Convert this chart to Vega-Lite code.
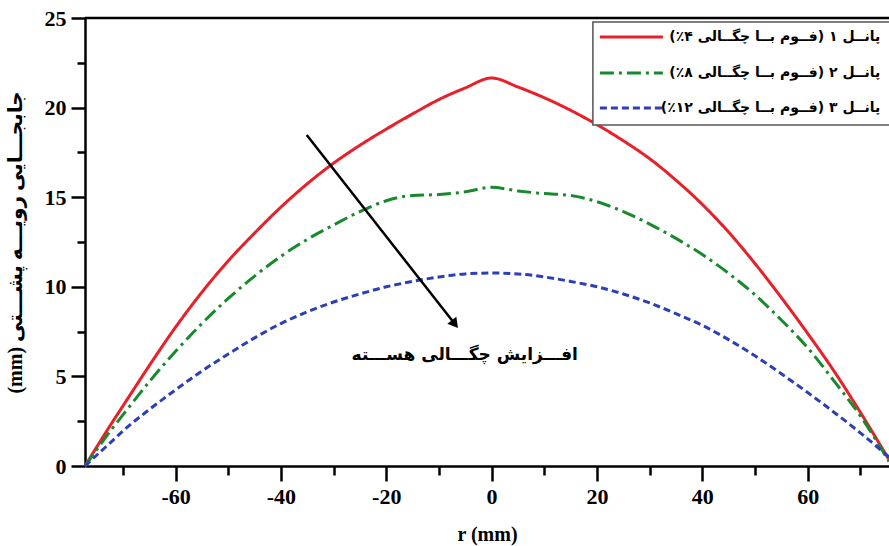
{
  "$schema": "https://vega.github.io/schema/vega-lite/v6.json",
  "width": 804,
  "height": 448,
  "autosize": {"type": "none"},
  "padding": {"left": 85, "top": 18, "right": 0, "bottom": 80},
  "background": "white",
  "config": {
    "view": {"stroke": null},
    "axis": {
      "grid": false,
      "domainColor": "black",
      "domainWidth": 2.5,
      "tickColor": "black",
      "tickWidth": 2.5,
      "labelFont": "Liberation Serif",
      "labelFontWeight": "bold",
      "labelFontSize": 22,
      "labelColor": "black",
      "titleColor": "black",
      "titleFontWeight": "bold",
      "labelOverlap": false,
      "labelFlush": false
    }
  },
  "datasets": {
    "curves": [
      {"series": "پانــل ۱ (فــوم بــا چگــالی ۴٪)‏", "r": -77.2, "d": 0},
      {"series": "پانــل ۱ (فــوم بــا چگــالی ۴٪)‏", "r": -75, "d": 1.05},
      {"series": "پانــل ۱ (فــوم بــا چگــالی ۴٪)‏", "r": -72, "d": 2.45},
      {"series": "پانــل ۱ (فــوم بــا چگــالی ۴٪)‏", "r": -70, "d": 3.35},
      {"series": "پانــل ۱ (فــوم بــا چگــالی ۴٪)‏", "r": -65, "d": 5.6},
      {"series": "پانــل ۱ (فــوم بــا چگــالی ۴٪)‏", "r": -60, "d": 7.75},
      {"series": "پانــل ۱ (فــوم بــا چگــالی ۴٪)‏", "r": -55, "d": 9.7},
      {"series": "پانــل ۱ (فــوم بــا چگــالی ۴٪)‏", "r": -50, "d": 11.45},
      {"series": "پانــل ۱ (فــوم بــا چگــالی ۴٪)‏", "r": -45, "d": 13.0},
      {"series": "پانــل ۱ (فــوم بــا چگــالی ۴٪)‏", "r": -40, "d": 14.45},
      {"series": "پانــل ۱ (فــوم بــا چگــالی ۴٪)‏", "r": -35, "d": 15.75},
      {"series": "پانــل ۱ (فــوم بــا چگــالی ۴٪)‏", "r": -30, "d": 16.9},
      {"series": "پانــل ۱ (فــوم بــا چگــالی ۴٪)‏", "r": -25, "d": 17.9},
      {"series": "پانــل ۱ (فــوم بــا چگــالی ۴٪)‏", "r": -20, "d": 18.8},
      {"series": "پانــل ۱ (فــوم بــا چگــالی ۴٪)‏", "r": -15, "d": 19.65},
      {"series": "پانــل ۱ (فــوم بــا چگــالی ۴٪)‏", "r": -10, "d": 20.45},
      {"series": "پانــل ۱ (فــوم بــا چگــالی ۴٪)‏", "r": -5, "d": 21.1},
      {"series": "پانــل ۱ (فــوم بــا چگــالی ۴٪)‏", "r": 0, "d": 21.65},
      {"series": "پانــل ۱ (فــوم بــا چگــالی ۴٪)‏", "r": 5, "d": 21.15},
      {"series": "پانــل ۱ (فــوم بــا چگــالی ۴٪)‏", "r": 10, "d": 20.55},
      {"series": "پانــل ۱ (فــوم بــا چگــالی ۴٪)‏", "r": 15, "d": 19.85},
      {"series": "پانــل ۱ (فــوم بــا چگــالی ۴٪)‏", "r": 20, "d": 19.05},
      {"series": "پانــل ۱ (فــوم بــا چگــالی ۴٪)‏", "r": 25, "d": 18.15},
      {"series": "پانــل ۱ (فــوم بــا چگــالی ۴٪)‏", "r": 30, "d": 17.15},
      {"series": "پانــل ۱ (فــوم بــا چگــالی ۴٪)‏", "r": 35, "d": 15.95},
      {"series": "پانــل ۱ (فــوم بــا چگــالی ۴٪)‏", "r": 40, "d": 14.6},
      {"series": "پانــل ۱ (فــوم بــا چگــالی ۴٪)‏", "r": 45, "d": 13.05},
      {"series": "پانــل ۱ (فــوم بــا چگــالی ۴٪)‏", "r": 50, "d": 11.3},
      {"series": "پانــل ۱ (فــوم بــا چگــالی ۴٪)‏", "r": 55, "d": 9.4},
      {"series": "پانــل ۱ (فــوم بــا چگــالی ۴٪)‏", "r": 60, "d": 7.4},
      {"series": "پانــل ۱ (فــوم بــا چگــالی ۴٪)‏", "r": 65, "d": 5.3},
      {"series": "پانــل ۱ (فــوم بــا چگــالی ۴٪)‏", "r": 70, "d": 3.0},
      {"series": "پانــل ۱ (فــوم بــا چگــالی ۴٪)‏", "r": 75.45, "d": 0.35},
      {"series": "پانــل ۲ (فــوم بــا چگــالی ۸٪)‏", "r": -77.2, "d": 0},
      {"series": "پانــل ۲ (فــوم بــا چگــالی ۸٪)‏", "r": -75, "d": 0.9},
      {"series": "پانــل ۲ (فــوم بــا چگــالی ۸٪)‏", "r": -72, "d": 2.1},
      {"series": "پانــل ۲ (فــوم بــا چگــالی ۸٪)‏", "r": -70, "d": 2.85},
      {"series": "پانــل ۲ (فــوم بــا چگــالی ۸٪)‏", "r": -65, "d": 4.7},
      {"series": "پانــل ۲ (فــوم بــا چگــالی ۸٪)‏", "r": -60, "d": 6.4},
      {"series": "پانــل ۲ (فــوم بــا چگــالی ۸٪)‏", "r": -55, "d": 7.95},
      {"series": "پانــل ۲ (فــوم بــا چگــالی ۸٪)‏", "r": -50, "d": 9.35},
      {"series": "پانــل ۲ (فــوم بــا چگــالی ۸٪)‏", "r": -45, "d": 10.6},
      {"series": "پانــل ۲ (فــوم بــا چگــالی ۸٪)‏", "r": -40, "d": 11.7},
      {"series": "پانــل ۲ (فــوم بــا چگــالی ۸٪)‏", "r": -35, "d": 12.65},
      {"series": "پانــل ۲ (فــوم بــا چگــالی ۸٪)‏", "r": -30, "d": 13.45},
      {"series": "پانــل ۲ (فــوم بــا چگــالی ۸٪)‏", "r": -25, "d": 14.2},
      {"series": "پانــل ۲ (فــوم بــا چگــالی ۸٪)‏", "r": -20, "d": 14.8},
      {"series": "پانــل ۲ (فــوم بــا چگــالی ۸٪)‏", "r": -15, "d": 15.1},
      {"series": "پانــل ۲ (فــوم بــا چگــالی ۸٪)‏", "r": -10, "d": 15.15},
      {"series": "پانــل ۲ (فــوم بــا چگــالی ۸٪)‏", "r": -5, "d": 15.3},
      {"series": "پانــل ۲ (فــوم بــا چگــالی ۸٪)‏", "r": 0, "d": 15.55},
      {"series": "پانــل ۲ (فــوم بــا چگــالی ۸٪)‏", "r": 5, "d": 15.35},
      {"series": "پانــل ۲ (فــوم بــا چگــالی ۸٪)‏", "r": 10, "d": 15.2},
      {"series": "پانــل ۲ (فــوم بــا چگــالی ۸٪)‏", "r": 15, "d": 15.1},
      {"series": "پانــل ۲ (فــوم بــا چگــالی ۸٪)‏", "r": 20, "d": 14.75},
      {"series": "پانــل ۲ (فــوم بــا چگــالی ۸٪)‏", "r": 25, "d": 14.2},
      {"series": "پانــل ۲ (فــوم بــا چگــالی ۸٪)‏", "r": 30, "d": 13.5},
      {"series": "پانــل ۲ (فــوم بــا چگــالی ۸٪)‏", "r": 35, "d": 12.7},
      {"series": "پانــل ۲ (فــوم بــا چگــالی ۸٪)‏", "r": 40, "d": 11.8},
      {"series": "پانــل ۲ (فــوم بــا چگــالی ۸٪)‏", "r": 45, "d": 10.75},
      {"series": "پانــل ۲ (فــوم بــا چگــالی ۸٪)‏", "r": 50, "d": 9.55},
      {"series": "پانــل ۲ (فــوم بــا چگــالی ۸٪)‏", "r": 55, "d": 8.15},
      {"series": "پانــل ۲ (فــوم بــا چگــالی ۸٪)‏", "r": 60, "d": 6.6},
      {"series": "پانــل ۲ (فــوم بــا چگــالی ۸٪)‏", "r": 65, "d": 4.75},
      {"series": "پانــل ۲ (فــوم بــا چگــالی ۸٪)‏", "r": 70, "d": 2.8},
      {"series": "پانــل ۲ (فــوم بــا چگــالی ۸٪)‏", "r": 75.45, "d": 0.25},
      {"series": "پانــل ۳ (فــوم بــا چگــالی ۱۲٪)‏", "r": -77.2, "d": 0},
      {"series": "پانــل ۳ (فــوم بــا چگــالی ۱۲٪)‏", "r": -75, "d": 0.6},
      {"series": "پانــل ۳ (فــوم بــا چگــالی ۱۲٪)‏", "r": -72, "d": 1.4},
      {"series": "پانــل ۳ (فــوم بــا چگــالی ۱۲٪)‏", "r": -70, "d": 1.95},
      {"series": "پانــل ۳ (فــوم بــا چگــالی ۱۲٪)‏", "r": -65, "d": 3.15},
      {"series": "پانــل ۳ (فــوم بــا چگــالی ۱۲٪)‏", "r": -60, "d": 4.25},
      {"series": "پانــل ۳ (فــوم بــا چگــالی ۱۲٪)‏", "r": -55, "d": 5.3},
      {"series": "پانــل ۳ (فــوم بــا چگــالی ۱۲٪)‏", "r": -50, "d": 6.25},
      {"series": "پانــل ۳ (فــوم بــا چگــالی ۱۲٪)‏", "r": -45, "d": 7.15},
      {"series": "پانــل ۳ (فــوم بــا چگــالی ۱۲٪)‏", "r": -40, "d": 7.95},
      {"series": "پانــل ۳ (فــوم بــا چگــالی ۱۲٪)‏", "r": -35, "d": 8.6},
      {"series": "پانــل ۳ (فــوم بــا چگــالی ۱۲٪)‏", "r": -30, "d": 9.15},
      {"series": "پانــل ۳ (فــوم بــا چگــالی ۱۲٪)‏", "r": -25, "d": 9.6},
      {"series": "پانــل ۳ (فــوم بــا چگــالی ۱۲٪)‏", "r": -20, "d": 10.0},
      {"series": "پانــل ۳ (فــوم بــا چگــالی ۱۲٪)‏", "r": -15, "d": 10.3},
      {"series": "پانــل ۳ (فــوم بــا چگــالی ۱۲٪)‏", "r": -10, "d": 10.55},
      {"series": "پانــل ۳ (فــوم بــا چگــالی ۱۲٪)‏", "r": -5, "d": 10.72},
      {"series": "پانــل ۳ (فــوم بــا چگــالی ۱۲٪)‏", "r": 0, "d": 10.77},
      {"series": "پانــل ۳ (فــوم بــا چگــالی ۱۲٪)‏", "r": 5, "d": 10.72},
      {"series": "پانــل ۳ (فــوم بــا چگــالی ۱۲٪)‏", "r": 10, "d": 10.55},
      {"series": "پانــل ۳ (فــوم بــا چگــالی ۱۲٪)‏", "r": 15, "d": 10.3},
      {"series": "پانــل ۳ (فــوم بــا چگــالی ۱۲٪)‏", "r": 20, "d": 10.0},
      {"series": "پانــل ۳ (فــوم بــا چگــالی ۱۲٪)‏", "r": 25, "d": 9.6},
      {"series": "پانــل ۳ (فــوم بــا چگــالی ۱۲٪)‏", "r": 30, "d": 9.1},
      {"series": "پانــل ۳ (فــوم بــا چگــالی ۱۲٪)‏", "r": 35, "d": 8.5},
      {"series": "پانــل ۳ (فــوم بــا چگــالی ۱۲٪)‏", "r": 40, "d": 7.85},
      {"series": "پانــل ۳ (فــوم بــا چگــالی ۱۲٪)‏", "r": 45, "d": 7.05},
      {"series": "پانــل ۳ (فــوم بــا چگــالی ۱۲٪)‏", "r": 50, "d": 6.15},
      {"series": "پانــل ۳ (فــوم بــا چگــالی ۱۲٪)‏", "r": 55, "d": 5.15},
      {"series": "پانــل ۳ (فــوم بــا چگــالی ۱۲٪)‏", "r": 60, "d": 4.1},
      {"series": "پانــل ۳ (فــوم بــا چگــالی ۱۲٪)‏", "r": 65, "d": 3.0},
      {"series": "پانــل ۳ (فــوم بــا چگــالی ۱۲٪)‏", "r": 70, "d": 1.85},
      {"series": "پانــل ۳ (فــوم بــا چگــالی ۱۲٪)‏", "r": 75.45, "d": 0.5}
    ],
    "legend": [
      {"series": "پانــل ۱ (فــوم بــا چگــالی ۴٪)‏", "r": 20.56, "r2": 32.52, "rt": 73.8, "d": 23.94},
      {"series": "پانــل ۲ (فــوم بــا چگــالی ۸٪)‏", "r": 20.56, "r2": 32.52, "rt": 73.8, "d": 21.93},
      {"series": "پانــل ۳ (فــوم بــا چگــالی ۱۲٪)‏", "r": 20.56, "r2": 32.52, "rt": 73.8, "d": 19.98}
    ],
    "box": [{"r": 19.23, "r2": 82, "d": 24.78, "d2": 19.03}],
    "arrow": [{"r": -35.1, "d": 18.47, "r2": -6.97, "d2": 7.92}],
    "head": [{"r": -6.97, "d": 7.92}],
    "note": [{"r": -5.1, "d": 6.2, "text": "افـــزایش چگـــالی هســـته"}],
    "frame": [{"d": 25}]
  },
  "layer": [
    {
      "data": {"name": "curves"},
      "mark": {"type": "line", "strokeWidth": 3, "interpolate": "monotone"},
      "encoding": {
        "x": {
          "field": "r", "type": "quantitative",
          "scale": {"domain": [-77.2, 75.45], "nice": false, "zero": false},
          "axis": {
            "title": "r (mm)",
            "titleFont": "Liberation Serif",
            "titleFontSize": 20,
            "titlePadding": 17,
            "values": [-70, -60, -50, -40, -30, -20, -10, 0, 10, 20, 30, 40, 50, 60, 70],
            "labelExpr": "datum.value % 20 === 0 ? '' + datum.value : ''",
            "tickSize": {"condition": {"test": "datum.value % 20 === 0", "value": 15}, "value": 9},
            "labelPadding": 5
          }
        },
        "y": {
          "field": "d", "type": "quantitative",
          "scale": {"domain": [0, 25], "nice": false},
          "axis": {
            "title": "(mm) جابجـــایی رویـــه پشـــتی",
            "titleFont": "'Liberation Serif', 'DejaVu Sans'",
            "titleFontSize": 20,
            "titlePadding": 19,
            "values": [0, 2.5, 5, 7.5, 10, 12.5, 15, 17.5, 20, 22.5, 25],
            "labelExpr": "datum.value % 5 === 0 ? '' + datum.value : ''",
            "tickSize": {"condition": {"test": "datum.value % 5 === 0", "value": 14}, "value": 8},
            "labelPadding": 5
          }
        },
        "color": {
          "field": "series", "type": "nominal",
          "scale": {
            "domain": ["پانــل ۱ (فــوم بــا چگــالی ۴٪)‏", "پانــل ۲ (فــوم بــا چگــالی ۸٪)‏", "پانــل ۳ (فــوم بــا چگــالی ۱۲٪)‏"],
            "range": ["#e8202a", "#168a2c", "#2c3fb8"]
          },
          "legend": null
        },
        "strokeDash": {
          "field": "series", "type": "nominal",
          "scale": {
            "domain": ["پانــل ۱ (فــوم بــا چگــالی ۴٪)‏", "پانــل ۲ (فــوم بــا چگــالی ۸٪)‏", "پانــل ۳ (فــوم بــا چگــالی ۱۲٪)‏"],
            "range": [[1, 0], [14, 5, 3, 5], [7, 4]]
          },
          "legend": null
        }
      }
    },
    {
      "data": {"name": "frame"},
      "mark": {"type": "rule", "color": "black", "strokeWidth": 2.5},
      "encoding": {"y": {"field": "d", "type": "quantitative"}}
    },
    {
      "data": {"name": "arrow"},
      "mark": {"type": "rule", "color": "black", "strokeWidth": 2.5},
      "encoding": {
        "x": {"field": "r", "type": "quantitative"},
        "y": {"field": "d", "type": "quantitative"},
        "x2": {"field": "r2"},
        "y2": {"field": "d2"}
      }
    },
    {
      "data": {"name": "head"},
      "mark": {"type": "point", "shape": "triangle-up", "angle": 142, "size": 130, "filled": true, "color": "black", "opacity": 1},
      "encoding": {
        "x": {"field": "r", "type": "quantitative"},
        "y": {"field": "d", "type": "quantitative"}
      }
    },
    {
      "data": {"name": "note"},
      "mark": {"type": "text", "font": "DejaVu Sans", "fontWeight": "bold", "fontSize": 17, "color": "black", "align": "center", "baseline": "middle"},
      "encoding": {
        "x": {"field": "r", "type": "quantitative"},
        "y": {"field": "d", "type": "quantitative"},
        "text": {"field": "text"}
      }
    },
    {
      "data": {"name": "box"},
      "mark": {"type": "rect", "fill": "white", "stroke": "#555", "strokeWidth": 1.5},
      "encoding": {
        "x": {"field": "r", "type": "quantitative"},
        "x2": {"field": "r2"},
        "y": {"field": "d", "type": "quantitative"},
        "y2": {"field": "d2"}
      }
    },
    {
      "data": {"name": "legend"},
      "mark": {"type": "rule", "strokeWidth": 3},
      "encoding": {
        "x": {"field": "r", "type": "quantitative"},
        "x2": {"field": "r2"},
        "y": {"field": "d", "type": "quantitative"},
        "color": {"field": "series", "type": "nominal", "legend": null},
        "strokeDash": {"field": "series", "type": "nominal", "legend": null}
      }
    },
    {
      "data": {"name": "legend"},
      "mark": {"type": "text", "font": "DejaVu Sans", "fontWeight": "bold", "fontSize": 14, "color": "black", "align": "right", "baseline": "middle"},
      "encoding": {
        "x": {"field": "rt", "type": "quantitative"},
        "y": {"field": "d", "type": "quantitative"},
        "text": {"field": "series"}
      }
    }
  ]
}
